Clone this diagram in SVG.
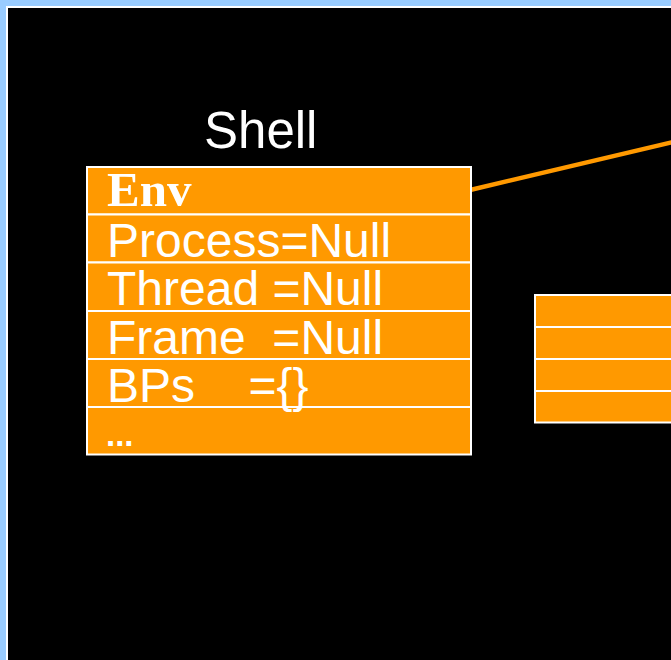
<svg xmlns="http://www.w3.org/2000/svg" width="671" height="660" viewBox="0 0 671 660">
  <style>
    .cell { fill: #FF9900; stroke: #FFFFFF; stroke-width: 2; }
    .field { font-family: "Liberation Sans", Arial, sans-serif; font-size: 48px; fill: #FFFFFF; }
    .more { font-family: "Liberation Sans", Arial, sans-serif; font-size: 33px; font-weight: bold; fill: #FFFFFF; }
    .head { font-family: "Liberation Serif", "Times New Roman", serif; font-size: 49px; font-weight: bold; fill: #FFFFFF; }
    .title { font-family: "Liberation Sans", Arial, sans-serif; font-size: 51px; fill: #FFFFFF; }
    .link { stroke: #FF9900; stroke-width: 4.5; fill: none; }
  </style>

  <!-- slide frame -->
  <rect x="0" y="0" width="671" height="660" fill="#99CCFF"/>
  <rect x="7" y="7" width="680" height="670" fill="#000000" stroke="#FFFFFF" stroke-width="2"/>

  <!-- connectors -->
  <g id="connectors">
    <line class="link" x1="468" y1="190.5" x2="675" y2="141.5"/>
  </g>

  <!-- shell environment record -->
  <g id="shell-env">
    <text class="title" x="204" y="148">Shell</text>
    <rect class="cell" x="87" y="167" width="384" height="47.5"/>
    <rect class="cell" x="87" y="214.5" width="384" height="48"/>
    <rect class="cell" x="87" y="262.5" width="384" height="48.5"/>
    <rect class="cell" x="87" y="311" width="384" height="48"/>
    <rect class="cell" x="87" y="359" width="384" height="48"/>
    <rect class="cell" x="87" y="407" width="384" height="47.5"/>
    <text class="head" x="107" y="206">Env</text>
    <text class="field" x="107" y="257">Process=Null</text>
    <text class="field" x="107" y="305">Thread =Null</text>
    <text class="field" x="107" y="353.5" xml:space="preserve">Frame  =Null</text>
    <text class="field" x="107" y="401.5" xml:space="preserve">BPs    ={}</text>
    <text class="more" x="106" y="446">...</text>
  </g>

  <!-- second record, partly off the right edge -->
  <g id="right-record">
    <rect class="cell" x="535" y="295" width="160" height="32"/>
    <rect class="cell" x="535" y="327" width="160" height="32"/>
    <rect class="cell" x="535" y="359" width="160" height="32"/>
    <rect class="cell" x="535" y="391" width="160" height="31.5"/>
  </g>
</svg>
